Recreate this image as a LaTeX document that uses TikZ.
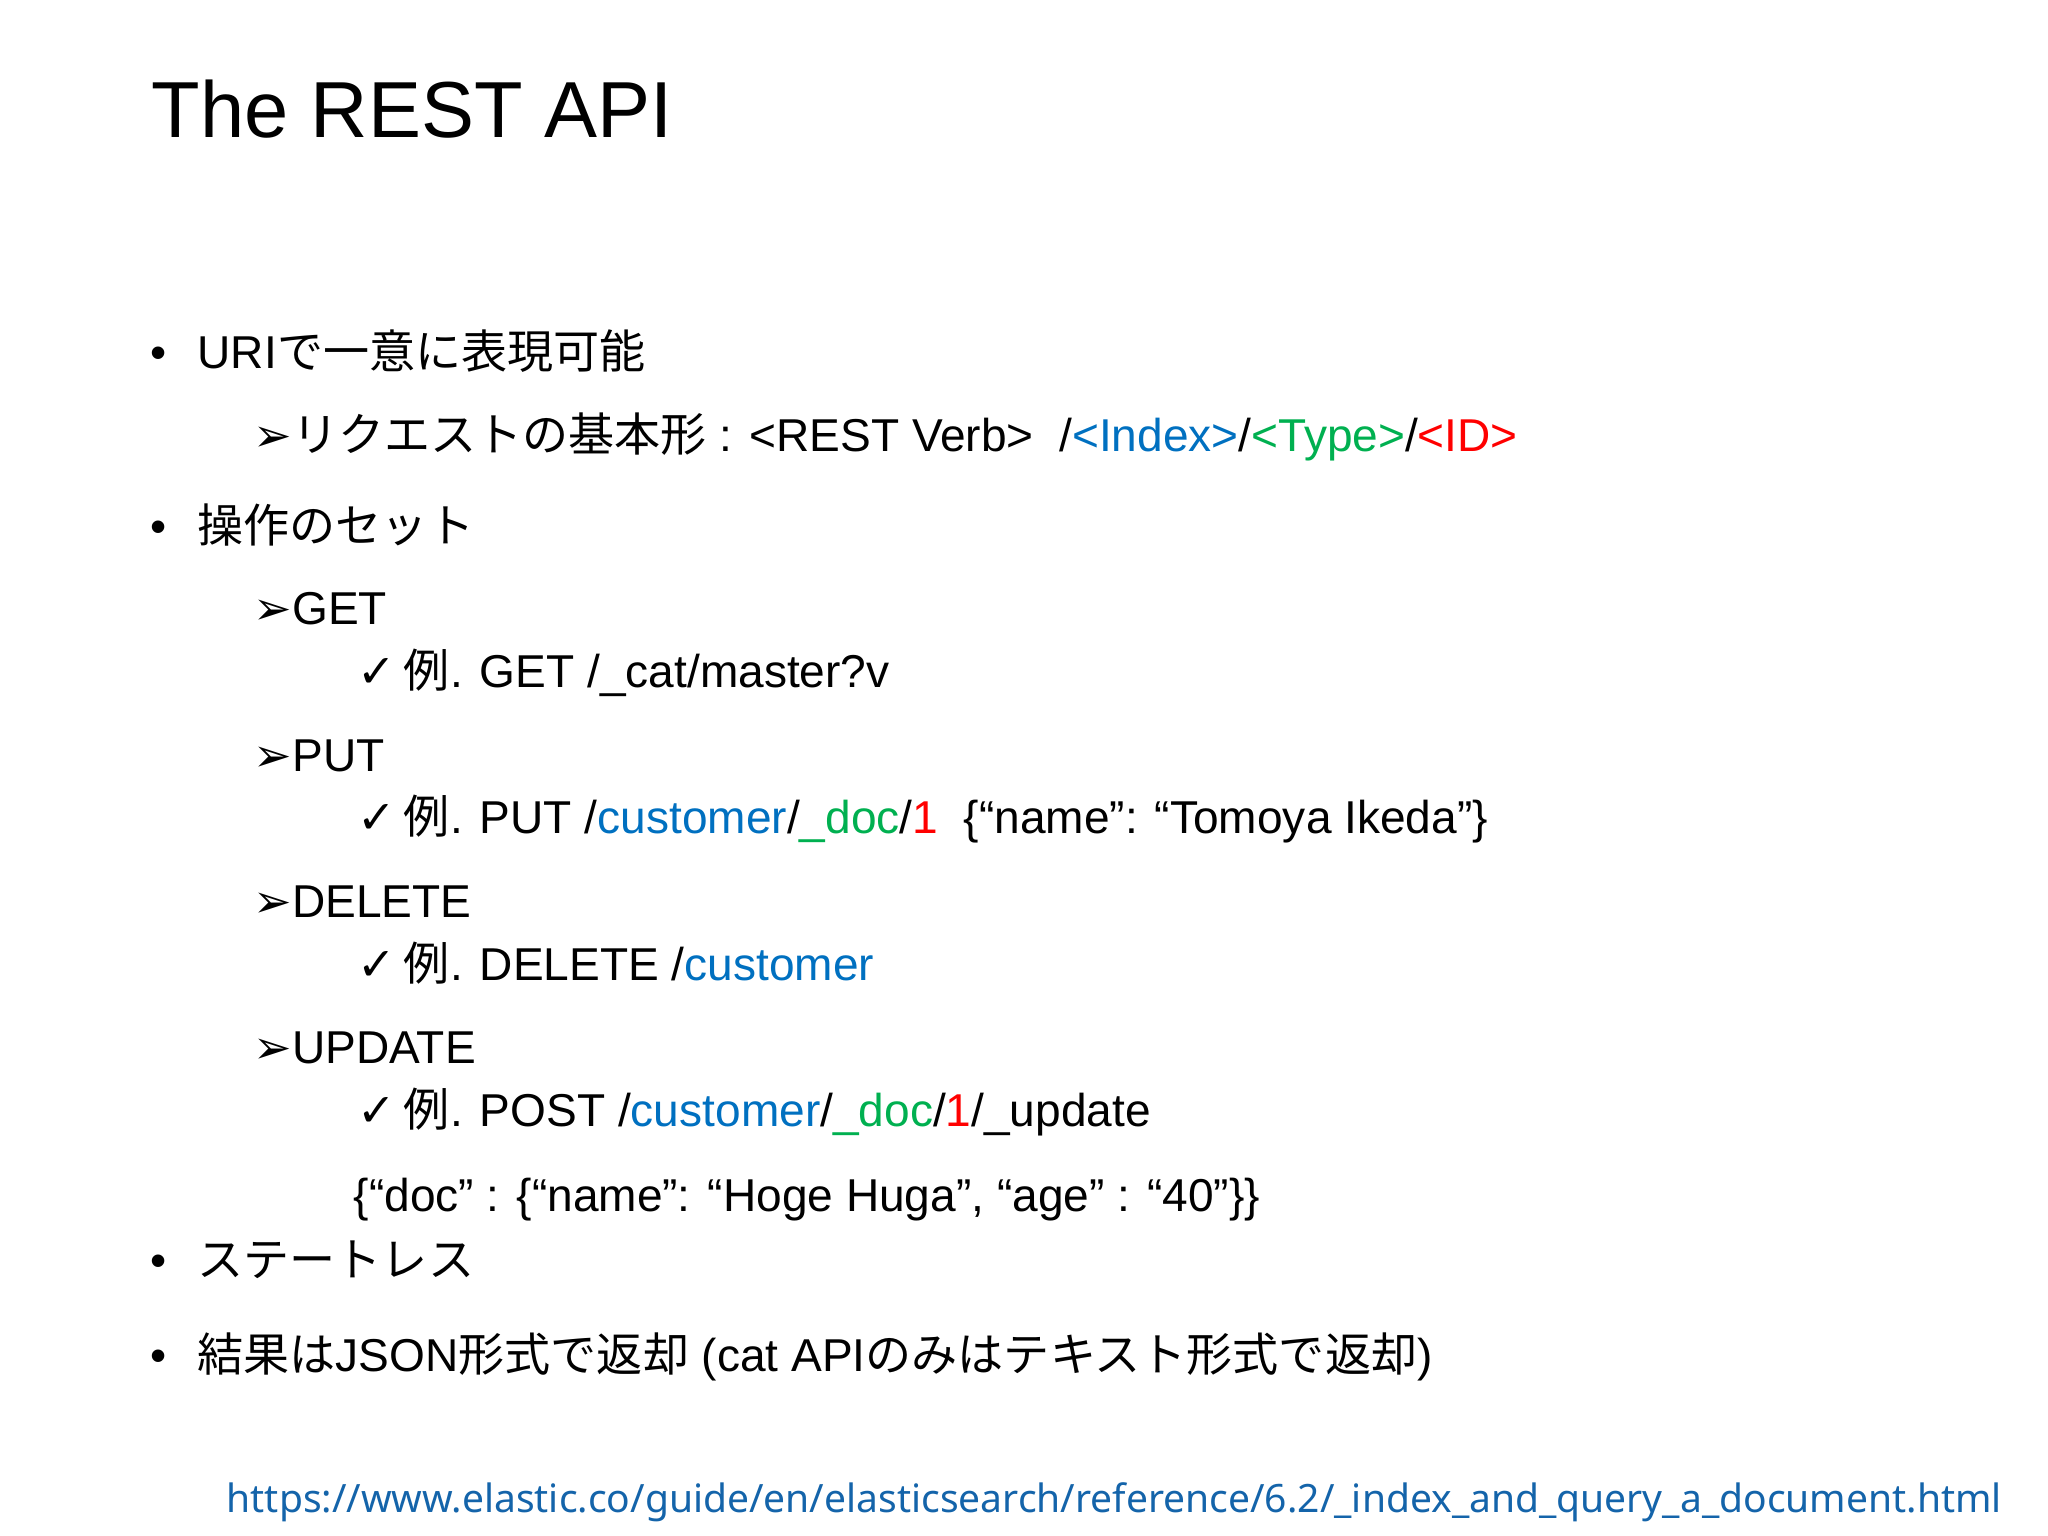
\documentclass[tikz,border=0pt]{standalone}
\usepackage{fontspec}
\setmainfont{Liberation Sans}
\newfontfamily\jp{Noto Sans CJK JP}
\newfontfamily\sym{DejaVu Sans}
\newfontfamily\urlf{Noto Sans}
\definecolor{ublue}{RGB}{0,112,192}
\definecolor{ugreen}{RGB}{0,176,80}
\definecolor{ured}{RGB}{255,0,0}
\definecolor{linkblue}{RGB}{20,100,170}
\tikzset{txt/.style={anchor=base west,inner sep=0pt,font=\fontsize{13.1pt}{16pt}\selectfont}}
\newcommand{\arr}{{\sym\char"27A2}}
\newcommand{\chk}{{\sym\bfseries\char"2713}\,}
\begin{document}
\begin{tikzpicture}[x=0.01cm,y=-0.01cm]
\useasboundingbox (0,0) rectangle (2048,1536);
\node[txt,font=\fontsize{22.6pt}{28pt}\selectfont] (title) at (151,137) {The REST API};
\node[txt] (b1) at (150,368) {•};
\node[txt] (l1) at (197,368) {URI{\jp で一意に表現可能}};
\node[txt] (l2) at (253,451) {\arr{\jp リクエストの基本形} : <REST Verb>\ \ /\textcolor{ublue}{<Index>}/\textcolor{ugreen}{<Type>}/\textcolor{ured}{<ID>}};
\node[txt] (b2) at (150,542) {•};
\node[txt] (l3) at (197,542) {\jp 操作のセット};
\node[txt] (l4) at (253,624) {\arr GET};
\node[txt] (l5) at (357,687) {\chk{\jp 例}. GET /\_cat/master?v};
\node[txt] (l6) at (253,771) {\arr PUT};
\node[txt] (l7) at (357,833) {\chk{\jp 例}. PUT /\textcolor{ublue}{customer}/\textcolor{ugreen}{\_doc}/\textcolor{ured}{1}\ \ \{“name”: “Tomoya Ikeda”\}};
\node[txt] (l8) at (253,917) {\arr DELETE};
\node[txt] (l9) at (357,980) {\chk{\jp 例}. DELETE /\textcolor{ublue}{customer}};
\node[txt] (l10) at (253,1063) {\arr UPDATE};
\node[txt] (l11) at (357,1126) {\chk{\jp 例}. POST /\textcolor{ublue}{customer}/\textcolor{ugreen}{\_doc}/\textcolor{ured}{1}/\_update};
\node[txt] (l12) at (353,1211) {\{“doc” : \{“name”: “Hoge Huga”, “age” : “40”\}\}};
\node[txt] (b3) at (150,1276) {•};
\node[txt] (l13) at (197,1276) {\jp ステートレス};
\node[txt] (b4) at (150,1371) {•};
\node[txt] (l14) at (197,1371) {{\jp 結果は}JSON{\jp 形式で返却} (cat API{\jp のみはテキスト形式で返却})};
\node[txt,font=\urlf\fontsize{11.1pt}{14pt}\selectfont,text=linkblue] (url) at (226,1512) {https://www.elastic.co/guide/en/elasticsearch/reference/6.2/\_index\_and\_query\_a\_document.html};
\end{tikzpicture}
\end{document}
